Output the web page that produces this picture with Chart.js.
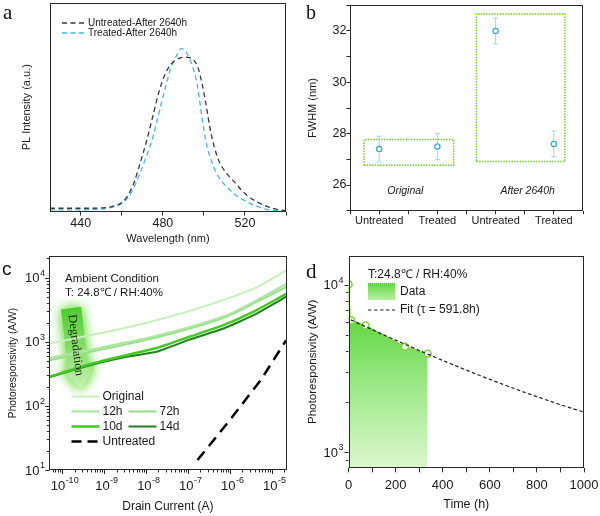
<!DOCTYPE html>
<html>
<head>
<meta charset="utf-8">
<script src="https://cdn.jsdelivr.net/npm/chart.js@4.4.1/dist/chart.umd.min.js"></script>
<style>
html,body{margin:0;padding:0;background:#fff;}
body{width:600px;height:516px;position:relative;overflow:hidden;}
canvas{position:absolute;}
</style>
</head>
<body>
<canvas id="cA" width="300" height="250" style="left:0;top:0"></canvas>
<canvas id="cB" width="300" height="250" style="left:300px;top:0"></canvas>
<canvas id="cC" width="300" height="266" style="left:0;top:250px"></canvas>
<canvas id="cD" width="300" height="266" style="left:300px;top:250px"></canvas>
<script>
// ===================== DATA =====================
// Panel a : PL spectra
const wavelength = [425,430,435,440,445,450,455,460,463,466,469,472,475,478,481,484,487,489,491,493,495,497,499,501,503,505,507,509,512,515,518,521,525,530,535,540];
const plUntreated = [0.020,0.020,0.020,0.020,0.020,0.022,0.030,0.055,0.100,0.180,0.300,0.430,0.580,0.730,0.840,0.905,0.935,0.945,0.948,0.945,0.930,0.887,0.790,0.660,0.510,0.400,0.320,0.270,0.220,0.180,0.135,0.100,0.065,0.035,0.015,0.005];
const plTreated   = [0.010,0.010,0.010,0.010,0.012,0.015,0.025,0.050,0.085,0.150,0.240,0.340,0.450,0.600,0.750,0.885,0.965,1.000,0.985,0.935,0.870,0.760,0.580,0.430,0.335,0.265,0.215,0.180,0.140,0.105,0.080,0.060,0.035,0.015,0.005,0.000];
const wavelengthTickLabels = [440,480,520];
const seriesA = ['Untreated-After 2640h','Treated-After 2640h'];

// Panel b : FWHM
const fwhmCategories = ['Untreated','Treated','Untreated','Treated'];
const fwhmValues = [27.4, 27.5, 32.0, 27.6];
const fwhmErrors = [0.5, 0.5, 0.5, 0.5];
const fwhmTickLabels = [26, 28, 30, 32];
const groupNames = ['Original','After 2640h'];
const groupLabelX = [0.45, 2.55];
const groupLabelY = 25.75;
const originalBoxX = [-0.26, 1.28];
const originalBoxY = [26.77, 27.77];
const afterBoxX = [1.67, 3.19];
const afterBoxY = [26.92, 32.66];

// Panel c : photoresponsivity vs drain current
const seriesC = ['Original','12h','72h','10d','14d','Untreated'];
const currentOriginal = [5.0e-11, 1.2e-9, 1.8e-8, 2.9e-7, 3.7e-6, 2.2e-5];
const respOriginal    = [940, 1430, 2170, 3700, 6750, 13000];
const current12h72h = [5.0e-11, 3.0e-9, 4.6e-8, 7.1e-7, 4.5e-6, 2.2e-5];
const resp12h       = [555, 960, 1450, 2480, 4500, 8000];
const resp72h       = [515, 900, 1380, 2380, 4250, 7150];
const current10d14d = [5.0e-11, 4.0e-10, 2.5e-9, 1.8e-8, 1.1e-7, 7.1e-7, 3.7e-6, 2.2e-5];
const resp10d       = [285, 435, 590, 800, 1200, 1820, 2950, 5600];
const resp14d       = [280, 420, 560, 700, 1080, 1610, 2600, 5050];
const currentUntreated = [1.7e-7, 1.0e-6, 5.4e-6, 2.2e-5];
const respUntreated    = [14.3, 60, 250, 1060];
const currentTickLabels = [1e-10, 1e-9, 1e-8, 1e-7, 1e-6, 1e-5];
const respTickLabelsC = [10, 100, 1000, 10000];

// Panel d : photoresponsivity vs time
const timeData = [0, 1, 3, 6, 12, 72, 240, 336];
const respData = [10000, 8500, 7200, 6500, 6100, 5700, 4250, 3860];
const markedTimes = [0, 12, 72, 240, 336];
const timeFit = [10,50,100,150,200,250,300,350,400,450,500,550,600,650,700,750,800,850,900,950,1000];
const respFit = [6150,5794,5382,5003,4655,4336,4042,3772,3524,3296,3086,2893,2716,2554,2404,2267,2141,2025,1918,1820,1730];
const timeTickLabels = [0,200,400,600,800,1000];
const respTickLabelsD = [1000, 10000];

// ===================== STYLE / HELPERS =====================
const SANS = 'Arial, "Liberation Sans", Helvetica, sans-serif';
const SERIF = '"Times New Roman", "Liberation Serif", Times, serif';
Chart.defaults.font.family = SANS;
Chart.defaults.color = '#1a1a1a';
Chart.defaults.animation = false;
Chart.defaults.events = [];
Chart.defaults.plugins.legend.display = false;
Chart.defaults.plugins.tooltip.enabled = false;
const INK = '#2a2a2a';

function fixBox(size){
  return s => {
    if (s.isHorizontal()) s.height = size; else s.width = size;
    s.paddingTop = 0; s.paddingBottom = 0; s.paddingLeft = 0; s.paddingRight = 0;
  };
}
function frame(chart){
  const {ctx, chartArea:a} = chart;
  ctx.save(); ctx.strokeStyle = INK; ctx.lineWidth = 1;
  const l = Math.round(a.left)+0.5, t = Math.round(a.top)+0.5, r = Math.round(a.right)-0.5, b = Math.round(a.bottom)-0.5;
  ctx.strokeRect(l, t, r-l, b-t);
  ctx.restore();
}
function text(ctx, str, x, y, font, align, color){
  ctx.save(); ctx.font = font; ctx.fillStyle = color || '#1a1a1a';
  ctx.textAlign = align || 'left'; ctx.textBaseline = 'middle';
  ctx.fillText(str, x, y); ctx.restore();
}
function letter(ctx, ch, x, y, font){
  ctx.save(); ctx.font = font; ctx.fillStyle = '#111'; ctx.textAlign='left'; ctx.textBaseline='alphabetic';
  ctx.fillText(ch, x, y); ctx.restore();
}
function supLabel(ctx, x, y, exp, baseSize, expSize, align){
  ctx.save();
  ctx.fillStyle = '#1a1a1a'; ctx.textBaseline = 'middle'; ctx.textAlign = 'left';
  ctx.font = baseSize + 'px ' + SANS; const wb = ctx.measureText('10').width;
  ctx.font = expSize + 'px ' + SANS; const we = ctx.measureText(exp).width;
  const x0 = align === 'right' ? x - wb - we - 0.5 : x - (wb + we) / 2;
  ctx.font = baseSize + 'px ' + SANS; ctx.fillText('10', x0, y);
  ctx.font = expSize + 'px ' + SANS; ctx.fillText(exp, x0 + wb + 0.5, y - baseSize * 0.42);
  ctx.restore();
}
function decadeMinors(e0, e1){
  const out = [];
  for (let e = e0; e <= e1; e++) for (let m = 2; m <= 9; m++) out.push(m * Math.pow(10, e));
  return out;
}
function logAxisX(chart, id, majors, minors, labelY, dx){
  const s = chart.scales[id], a = chart.chartArea, ctx = chart.ctx;
  ctx.save(); ctx.strokeStyle = INK; ctx.lineWidth = 1; ctx.beginPath();
  majors.forEach(v => { const p = Math.round(s.getPixelForValue(v)) + 0.5; ctx.moveTo(p, a.bottom); ctx.lineTo(p, a.bottom + 4); });
  minors.forEach(v => { if (v < s.min || v > s.max) return; const p = Math.round(s.getPixelForValue(v)) + 0.5; ctx.moveTo(p, a.bottom); ctx.lineTo(p, a.bottom + 2.5); });
  ctx.stroke(); ctx.restore();
  majors.forEach(v => supLabel(ctx, s.getPixelForValue(v) + dx, labelY, String(Math.round(Math.log10(v))), 13, 9, 'center'));
}
function logAxisY(chart, id, majors, minors, labelRight){
  const s = chart.scales[id], a = chart.chartArea, ctx = chart.ctx;
  ctx.save(); ctx.strokeStyle = INK; ctx.lineWidth = 1; ctx.beginPath();
  majors.forEach(v => { const p = Math.round(s.getPixelForValue(v)) + 0.5; ctx.moveTo(a.left, p); ctx.lineTo(a.left - 4, p); });
  minors.forEach(v => { if (v < s.min || v > s.max) return; const p = Math.round(s.getPixelForValue(v)) + 0.5; ctx.moveTo(a.left, p); ctx.lineTo(a.left - 2.5, p); });
  ctx.stroke(); ctx.restore();
  majors.forEach(v => supLabel(ctx, labelRight, s.getPixelForValue(v) + 1, String(Math.round(Math.log10(v))), 13, 9, 'right'));
}
const xy = (xs, ys) => xs.map((x, i) => ({x: x, y: ys[i]}));
const boxPath = (bx, by) => [{x:bx[0],y:by[0]},{x:bx[1],y:by[0]},{x:bx[1],y:by[1]},{x:bx[0],y:by[1]},{x:bx[0],y:by[0]}];
const tickGrid = (len) => ({display:true, drawOnChartArea:false, drawTicks:true, tickLength:len, color:INK, lineWidth:1});

// ===================== PANEL A =====================
const colUntreatedA = '#333a45', colTreatedA = '#45b6e6';
new Chart(document.getElementById('cA'), {
  type: 'line',
  data: { datasets: [
    { label: seriesA[0], data: xy(wavelength, plUntreated), borderColor: colUntreatedA, borderWidth: 1.3, borderDash: [5,3.5], pointRadius: 0, tension: 0.4, cubicInterpolationMode: 'monotone' },
    { label: seriesA[1], data: xy(wavelength, plTreated), borderColor: colTreatedA, borderWidth: 1.3, borderDash: [5,3.5], pointRadius: 0, tension: 0.4, cubicInterpolationMode: 'monotone' }
  ]},
  options: {
    responsive: false,
    layout: { padding: { left: 0, top: 3, right: 14, bottom: 0 } },
    scales: {
      x: { type: 'linear', min: 425, max: 540, afterFit: fixBox(38.5),
           grid: tickGrid(4), border: { display: false },
           ticks: { stepSize: 20, includeBounds: false, padding: 1, font: { size: 12.5 }, maxRotation: 0, autoSkip: false,
                    callback: v => wavelengthTickLabels.includes(v) ? String(v) : '' },
           title: { display: true, text: 'Wavelength (nm)', font: { size: 11 }, padding: { top: 0, bottom: 4.1 } } },
      y: { type: 'linear', min: 0, max: 1.28, afterFit: fixBox(50),
           grid: { display: false }, border: { display: false }, ticks: { display: false },
           title: { display: true, text: 'PL Intensity (a.u.)', font: { size: 11 }, padding: { top: 20.4, bottom: 0 } } }
    }
  },
  plugins: [{ id: 'decorA', afterDraw(chart){
    const ctx = chart.ctx; frame(chart);
    const ds = chart.data.datasets;
    [[23, 0], [33, 1]].forEach(([y, i]) => {
      ctx.save(); ctx.strokeStyle = ds[i].borderColor; ctx.lineWidth = 1.3; ctx.setLineDash([5,3.5]);
      ctx.beginPath(); ctx.moveTo(62, y); ctx.lineTo(86, y); ctx.stroke(); ctx.restore();
      text(ctx, ds[i].label, 88, y, '10px ' + SANS);
    });
    letter(ctx, 'a', 3, 18.5, '21px ' + SERIF);
  }}]
});

// ===================== PANEL B =====================
const colPointB = '#3aaae0', colErrB = '#9bd6ef', colBox = '#77cc2e';
new Chart(document.getElementById('cB'), {
  type: 'line',
  data: { datasets: [
    { label: 'box1', data: boxPath(originalBoxX, originalBoxY), borderColor: colBox, borderWidth: 1.5, borderDash: [1.5,1.2], pointRadius: 0, tension: 0 },
    { label: 'box2', data: boxPath(afterBoxX, afterBoxY), borderColor: colBox, borderWidth: 1.5, borderDash: [1.5,1.2], pointRadius: 0, tension: 0 },
    { label: 'FWHM', data: fwhmValues.map((v, i) => ({x: i, y: v})), showLine: false, pointRadius: 2.6, pointBorderWidth: 1.3, pointBorderColor: colPointB, pointBackgroundColor: '#fff' }
  ]},
  options: {
    responsive: false,
    layout: { padding: { left: 0, top: 3, right: 17, bottom: 0 } },
    scales: {
      x: { type: 'linear', min: -0.5, max: 3.5, afterFit: fixBox(39.3),
           grid: tickGrid(3.5), border: { display: false },
           ticks: { stepSize: 0.5, padding: 0, font: { size: 11 }, maxRotation: 0, autoSkip: false,
                    callback: v => Number.isInteger(v) ? fwhmCategories[v] : '' } },
      y: { type: 'linear', min: 25, max: 33, afterFit: fixBox(50),
           grid: tickGrid(3.5), border: { display: false },
           ticks: { stepSize: 1, padding: 0, font: { size: 12.5 }, autoSkip: false,
                    callback: v => fwhmTickLabels.includes(v) ? String(v) : '' },
           title: { display: true, text: 'FWHM (nm)', font: { size: 11 }, padding: { top: 6.4, bottom: 0 } } }
    }
  },
  plugins: [{ id: 'decorB',
    beforeDatasetsDraw(chart){
      const ctx = chart.ctx, sx = chart.scales.x, sy = chart.scales.y;
      ctx.save(); ctx.strokeStyle = colErrB; ctx.lineWidth = 1; ctx.beginPath();
      fwhmValues.forEach((v, i) => {
        const px = sx.getPixelForValue(i), top = sy.getPixelForValue(v + fwhmErrors[i]), bot = sy.getPixelForValue(v - fwhmErrors[i]);
        ctx.moveTo(px, top); ctx.lineTo(px, bot);
        ctx.moveTo(px - 2.5, top); ctx.lineTo(px + 2.5, top);
        ctx.moveTo(px - 2.5, bot); ctx.lineTo(px + 2.5, bot);
      });
      ctx.stroke(); ctx.restore();
    },
    afterDraw(chart){
      const ctx = chart.ctx, sx = chart.scales.x, sy = chart.scales.y; frame(chart);
      groupNames.forEach((g, i) => text(ctx, g, sx.getPixelForValue(groupLabelX[i]), sy.getPixelForValue(groupLabelY), 'italic 10.5px ' + SANS, 'center'));
      letter(ctx, 'b', 6, 18.5, '20px ' + SERIF);
    }
  }]
});

// ===================== PANEL C =====================
const colC = ['#c8f0ba', '#aee8a0', '#98e088', '#3fcc1f', '#217f21', '#000000'];
const widC = [2, 2.2, 2.2, 2.5, 2, 2.5];
const dashUntreated = [11, 7];
new Chart(document.getElementById('cC'), {
  type: 'line',
  data: { datasets: [
    { label: seriesC[0], data: xy(currentOriginal, respOriginal), borderColor: colC[0], borderWidth: widC[0], pointRadius: 0, tension: 0.3 },
    { label: seriesC[1], data: xy(current12h72h, resp12h), borderColor: colC[1], borderWidth: widC[1], pointRadius: 0, tension: 0.3 },
    { label: seriesC[2], data: xy(current12h72h, resp72h), borderColor: colC[2], borderWidth: widC[2], pointRadius: 0, tension: 0.3 },
    { label: seriesC[3], data: xy(current10d14d, resp10d), borderColor: colC[3], borderWidth: widC[3], pointRadius: 0, tension: 0.15 },
    { label: seriesC[4], data: xy(current10d14d, resp14d), borderColor: colC[4], borderWidth: widC[4], pointRadius: 0, tension: 0.1 },
    { label: seriesC[5], data: xy(currentUntreated, respUntreated), borderColor: colC[5], borderWidth: widC[5], borderDash: dashUntreated, pointRadius: 0, tension: 0 }
  ]},
  options: {
    responsive: false,
    layout: { padding: { left: 0, top: 6, right: 13.5, bottom: 0 } },
    scales: {
      x: { type: 'logarithmic', min: 5.01e-11, max: 2.24e-5, afterFit: fixBox(46),
           afterBuildTicks: s => { s.ticks = currentTickLabels.map(v => ({value: v})); },
           grid: { display: false }, border: { display: false }, ticks: { display: false },
           title: { display: true, text: 'Drain Current (A)', font: { size: 12 }, padding: { top: 0, bottom: 2.1 } } },
      y: { type: 'logarithmic', min: 10, max: 21800, afterFit: fixBox(49.3),
           afterBuildTicks: s => { s.ticks = respTickLabelsC.map(v => ({value: v})); },
           grid: { display: false }, border: { display: false }, ticks: { display: false },
           title: { display: true, text: 'Photoresponsivity (A/W)', font: { size: 10.3 }, padding: { top: 7.1, bottom: 0 } } }
    }
  },
  plugins: [{ id: 'decorC',
    beforeDatasetsDraw(chart){
      const ctx = chart.ctx;
      ctx.save();
      ctx.translate(76, 99); ctx.rotate(-0.12);
      const g = ctx.createLinearGradient(0, -41, 0, 41);
      g.addColorStop(0, '#4fcb30'); g.addColorStop(0.55, '#8fe072'); g.addColorStop(1, '#c9f2b4');
      ctx.shadowColor = 'rgba(120,225,80,0.95)'; ctx.shadowBlur = 12;
      ctx.fillStyle = g;
      ctx.beginPath();
      ctx.moveTo(-10, -41); ctx.lineTo(10, -41); ctx.lineTo(10, 19); ctx.lineTo(17, 19); ctx.lineTo(0, 41);
      ctx.lineTo(-17, 19); ctx.lineTo(-10, 19); ctx.closePath();
      ctx.fill(); ctx.fill();
      ctx.restore();
    },
    afterDatasetsDraw(chart){
      const ctx = chart.ctx;
      ctx.save();
      ctx.translate(76, 99); ctx.rotate(-0.12 + Math.PI / 2);
      ctx.fillStyle = '#1d2a16'; ctx.font = '12.5px ' + SERIF; ctx.textAlign = 'center'; ctx.textBaseline = 'middle';
      ctx.fillText('Degradation', -4, 0);
      ctx.restore();
    },
    afterDraw(chart){
      const ctx = chart.ctx; frame(chart);
      logAxisX(chart, 'x', currentTickLabels, decadeMinors(-11, -5), 236, 2.5);
      logAxisY(chart, 'y', respTickLabelsC, decadeMinors(1, 4), 45);
      text(ctx, 'Ambient Condition', 65, 29, '11.5px ' + SANS);
      text(ctx, 'T: 24.8\u2103 / RH:40%', 65, 43, '11.5px ' + SANS);
      const rows = [[0, 71.5, 146.5], [1, 71.5, 161.5], [2, 128.5, 161.5], [3, 71.5, 176.5], [4, 128.5, 176.5], [5, 71.5, 191.5]];
      rows.forEach(([i, x, y]) => {
        ctx.save(); ctx.strokeStyle = colC[i]; ctx.lineWidth = widC[i];
        if (i === 5) ctx.setLineDash([10, 6]);
        ctx.beginPath(); ctx.moveTo(x, y); ctx.lineTo(x + 28, y); ctx.stroke(); ctx.restore();
        text(ctx, seriesC[i], x + 31, y, '12px ' + SANS);
      });
      letter(ctx, 'c', 2, 25, '19px ' + SANS);
    }
  }]
});

// ===================== PANEL D =====================
const colDataD = '#7fd23c';
function fillGrad(c){
  const chart = c.chart, a = chart.chartArea;
  if (!a) return 'rgba(110,220,80,0.6)';
  const g = chart.ctx.createLinearGradient(0, a.top + 60, 0, a.bottom);
  g.addColorStop(0, '#5ed73e'); g.addColorStop(0.45, '#9be886'); g.addColorStop(1, '#dcf8cf');
  return g;
}
new Chart(document.getElementById('cD'), {
  type: 'line',
  data: { datasets: [
    { label: 'Fit (\u03C4 = 591.8h)', data: xy(timeFit, respFit), borderColor: '#222', borderWidth: 1.2, borderDash: [3.5, 2.5], pointRadius: 0, tension: 0.3, order: 0 },
    { label: 'Data', data: xy(timeData, respData), borderColor: colDataD, borderWidth: 1.3, fill: 'start', backgroundColor: fillGrad,
      pointRadius: c => markedTimes.includes(timeData[c.dataIndex]) ? 3.5 : 0,
      pointBorderWidth: 1.5, pointBorderColor: colDataD, pointBackgroundColor: '#fff', tension: 0, order: 1 }
  ]},
  options: {
    responsive: false,
    layout: { padding: { left: 0, top: 5, right: 16, bottom: 0 } },
    scales: {
      x: { type: 'linear', min: 0, max: 1000, afterFit: fixBox(47.7),
           grid: tickGrid(4), border: { display: false },
           ticks: { stepSize: 100, padding: 5.6, font: { size: 13 }, maxRotation: 0, autoSkip: false,
                    callback: v => timeTickLabels.includes(v) ? String(v) : '' },
           title: { display: true, text: 'Time (h)', font: { size: 12.5 }, padding: { top: 0, bottom: 4.2 } } },
      y: { type: 'logarithmic', min: 800, max: 14900, afterFit: fixBox(48.5),
           afterBuildTicks: s => { s.ticks = respTickLabelsD.map(v => ({value: v})); },
           grid: { display: false }, border: { display: false }, ticks: { display: false },
           title: { display: true, text: 'Photoresponsivity (A/W)', font: { size: 11.6 }, padding: { top: 5.7, bottom: 0 } } }
    }
  },
  plugins: [{ id: 'decorD', afterDraw(chart){
    const ctx = chart.ctx; frame(chart);
    logAxisY(chart, 'y', respTickLabelsD, [900].concat(decadeMinors(3, 3)), 43.5);
    const ds = chart.data.datasets;
    text(ctx, 'T:24.8\u2103 / RH:40%', 68, 25, '12px ' + SANS);
    const g = ctx.createLinearGradient(0, 33, 0, 50);
    g.addColorStop(0, '#5ed73e'); g.addColorStop(1, '#b8efa2');
    ctx.save(); ctx.fillStyle = g; ctx.fillRect(68, 33.5, 27, 16.5);
    ctx.strokeStyle = '#55b82a'; ctx.lineWidth = 1; ctx.setLineDash([1, 1]);
    ctx.beginPath(); ctx.moveTo(68, 33.5); ctx.lineTo(95, 33.5); ctx.stroke(); ctx.restore();
    text(ctx, ds[1].label, 100, 42, '12px ' + SANS);
    ctx.save(); ctx.strokeStyle = '#222'; ctx.lineWidth = 1.2; ctx.setLineDash([3.5, 2.5]);
    ctx.beginPath(); ctx.moveTo(68, 60); ctx.lineTo(95, 60); ctx.stroke(); ctx.restore();
    text(ctx, ds[0].label, 100, 60, '12px ' + SANS);
    letter(ctx, 'd', 6, 28, '21px ' + SERIF);
  }}]
});
</script>
</body>
</html>
